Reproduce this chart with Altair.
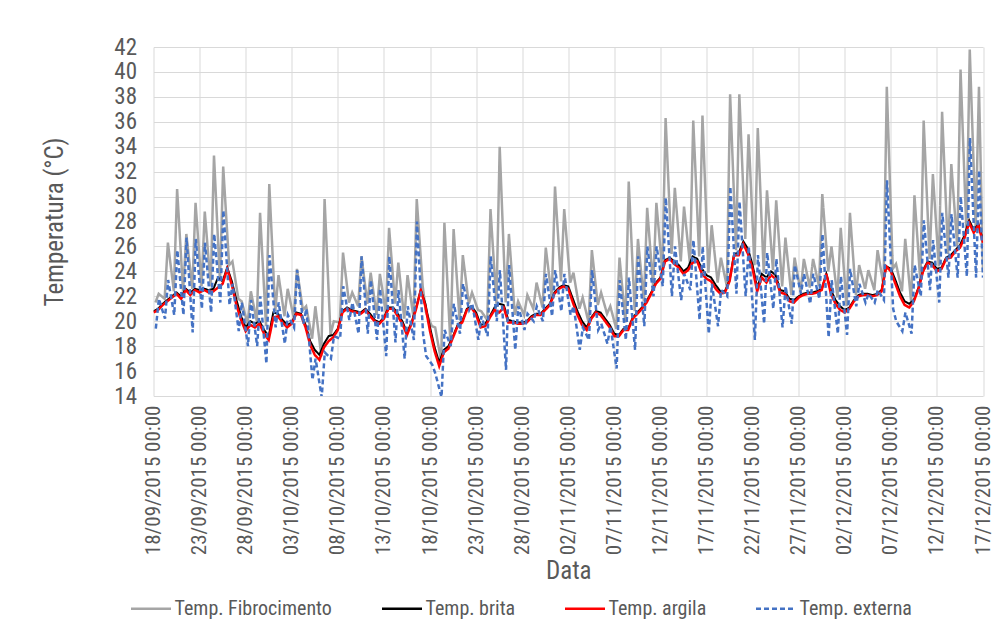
import altair as alt
import pandas as pd

# ---------------- data ----------------
START = pd.Timestamp("2015-09-18 00:00")
N_DAYS = 90

series_names = ["Temp. Fibrocimento", "Temp. brita", "Temp. argila", "Temp. externa"]
series_colors = ["#A5A5A5", "#000000", "#FF0000", "#4472C4"]

# Fibrocimento: night value (~05h) and daily peak (~13h30) for each day
fibro_night = [21.5, 21.8, 22.4, 22.4, 22.6, 22.8, 22.8, 23.2, 24.5, 21.8,
               19.8, 20.0, 19.6, 20.8, 20.4, 20.3, 20.9, 18.6, 17.2, 18.9,
               19.9, 21.5, 21.2, 21.4, 20.5, 20.7, 21.4, 20.2, 20.3, 22.8,
               19.6, 16.8, 18.3, 20.1, 21.4, 20.9, 20.1, 21.4, 21.5, 20.5,
               20.5, 21.0, 21.1, 21.9, 23.2, 23.1, 21.0, 19.9, 21.3, 20.6,
               19.4, 19.9, 20.8, 21.6, 22.8, 24.0, 25.4, 24.8, 24.6, 25.2,
               23.9, 23.1, 22.8, 25.7, 26.6, 24.5, 23.9, 24.1, 22.8, 22.1,
               22.4, 22.7, 22.8, 24.0, 21.9, 21.2, 22.1, 22.6, 22.5, 22.9,
               24.2, 22.4, 21.5, 23.1, 25.0, 24.4, 25.4, 26.0, 27.0, 27.5]
fibro_peak = [22.2, 26.3, 30.6, 27.0, 29.5, 28.8, 33.3, 32.4, 24.8, 21.6,
              22.4, 28.7, 31.0, 23.7, 22.6, 24.2, 21.2, 21.2, 29.8, 20.0,
              25.5, 22.3, 25.2, 23.9, 23.8, 27.5, 24.7, 23.7, 29.8, 20.7,
              19.5, 27.9, 27.4, 25.3, 22.3, 20.8, 29.0, 34.0, 27.0, 21.6,
              22.1, 23.1, 25.9, 30.8, 29.0, 23.9, 21.9, 25.7, 22.3, 21.2,
              25.1, 31.2, 26.6, 29.1, 29.5, 36.3, 30.7, 29.2, 36.1, 36.5,
              27.7, 25.1, 38.2, 38.2, 35.0, 35.5, 30.5, 29.7, 26.7, 25.1,
              25.0, 25.0, 30.2, 26.0, 27.5, 28.7, 24.5, 24.1, 25.7, 38.8,
              24.6, 26.6, 30.1, 36.1, 31.8, 36.8, 32.6, 40.2, 41.8, 38.8]
fibro_last = 24.0

# Brita and argila: one value every 12 hours (00h, 12h), 18/09 00h .. 17/12 00h
brita = [20.8, 21.0, 21.4, 21.7, 22.0, 22.3, 22.0, 22.6, 22.3, 22.6,
         22.5, 22.6, 22.5, 22.6, 23.5, 23.2, 24.3, 23.2, 21.7, 20.4,
         19.5, 20.0, 19.8, 20.0, 19.3, 18.8, 20.7, 20.6, 20.1, 19.7,
         19.9, 20.7, 20.6, 19.7, 18.4, 17.7, 17.3, 18.2, 18.8, 18.9,
         19.4, 20.8, 21.1, 20.9, 20.8, 20.7, 21.0, 20.6, 20.1, 19.9,
         20.3, 21.1, 21.1, 20.6, 20.0, 19.1, 19.9, 21.1, 22.5, 21.4,
         19.5, 17.9, 16.7, 17.7, 18.0, 18.8, 19.7, 20.0, 21.0, 21.2,
         20.7, 19.7, 19.8, 20.4, 21.1, 21.4, 21.3, 20.1, 20.0, 19.9,
         19.9, 20.0, 20.4, 20.6, 20.6, 21.0, 21.4, 22.3, 22.7, 22.9,
         22.8, 21.8, 20.8, 20.0, 19.5, 20.3, 20.8, 20.7, 20.2, 19.7,
         19.0, 18.9, 19.4, 19.4, 20.3, 20.7, 21.1, 21.6, 22.3, 23.1,
         23.5, 24.9, 25.1, 24.8, 24.5, 24.0, 24.3, 25.2, 25.0, 24.2,
         23.7, 23.5, 22.9, 22.4, 22.4, 23.3, 25.4, 25.5, 26.4, 25.8,
         24.5, 22.7, 23.8, 23.5, 24.0, 23.7, 22.5, 22.4, 21.8, 21.7,
         22.0, 22.2, 22.3, 22.3, 22.4, 22.6, 23.8, 22.5, 21.7, 21.2,
         20.9, 21.1, 21.7, 22.1, 22.2, 22.2, 22.1, 22.2, 22.5, 24.4,
         24.2, 23.3, 22.3, 21.6, 21.4, 21.7, 22.7, 24.1, 24.8, 24.7,
         24.2, 24.3, 25.1, 25.3, 25.7, 26.1, 26.9, 28.1, 27.3, 27.8,
         26.5]
argila = [20.7, 20.9, 21.3, 21.6, 21.9, 22.2, 21.8, 22.5, 22.1, 22.5,
          22.3, 22.5, 22.3, 22.4, 22.7, 23.0, 24.2, 22.9, 21.3, 20.1,
          19.2, 19.7, 19.5, 19.8, 19.0, 18.5, 20.3, 20.4, 19.9, 19.5,
          19.8, 20.6, 20.5, 19.5, 18.1, 17.3, 16.9, 17.9, 18.4, 18.7,
          19.3, 20.7, 21.0, 20.8, 20.7, 20.6, 20.9, 20.4, 20.0, 19.8,
          20.2, 21.0, 21.0, 20.4, 19.8, 18.9, 19.8, 21.0, 22.5, 21.2,
          19.2, 17.6, 16.4, 17.5, 17.8, 18.7, 19.6, 19.9, 20.9, 21.1,
          20.5, 19.5, 19.6, 20.3, 20.9, 20.7, 21.1, 19.9, 19.9, 19.8,
          19.8, 19.9, 20.3, 20.5, 20.5, 20.9, 21.3, 22.2, 22.6, 22.8,
          22.6, 21.5, 20.5, 19.7, 19.3, 20.2, 20.7, 20.5, 20.0, 19.5,
          18.8, 18.8, 19.3, 19.3, 20.2, 20.6, 21.0, 21.5, 22.2, 23.0,
          23.4, 24.8, 25.0, 24.6, 24.3, 23.8, 24.1, 24.7, 24.8, 23.8,
          23.4, 23.2, 22.6, 22.2, 22.3, 23.2, 25.3, 25.3, 26.2, 25.4,
          24.2, 22.4, 23.5, 23.1, 23.7, 23.4, 22.3, 22.2, 21.6, 21.5,
          21.9, 22.1, 22.2, 22.2, 22.3, 22.5, 23.8, 22.2, 21.4, 20.9,
          20.7, 21.0, 21.6, 22.0, 22.1, 22.1, 22.0, 22.1, 22.4, 24.4,
          24.0, 23.0, 22.0, 21.3, 21.1, 21.6, 22.6, 24.0, 24.7, 24.5,
          24.0, 24.2, 25.0, 25.1, 25.6, 25.9, 26.7, 27.9, 27.1, 27.7,
          26.3]

# Externa: early-morning value (~06h) and afternoon value (~14h) for each day
ext_morning = [19.4, 20.2, 20.5, 20.5, 19.1, 21.0, 20.7, 21.5, 21.3, 19.2,
               18.0, 18.0, 16.6, 19.5, 18.2, 19.5, 19.8, 15.3, 13.9, 17.0,
               18.6, 20.1, 19.0, 19.0, 18.5, 17.2, 18.3, 17.0, 18.5, 19.0,
               16.5, 13.9, 18.0, 19.0, 20.9, 18.5, 18.8, 20.0, 16.1, 17.7,
               19.3, 20.0, 20.0, 20.4, 20.8, 20.5, 17.7, 18.5, 19.3, 18.2,
               16.2, 18.5, 17.7, 19.6, 22.0, 22.8, 22.0, 21.7, 22.5, 20.1,
               19.0, 19.6, 22.0, 22.2, 22.0, 18.5, 19.8, 21.0, 19.5, 19.8,
               22.2, 21.4, 21.8, 18.7, 19.0, 18.9, 21.2, 21.5, 21.5, 21.7,
               21.0, 19.2, 19.0, 22.0, 22.5, 21.5, 23.5, 23.5, 23.6, 23.5]
ext_afternoon = [21.8, 23.3, 25.7, 26.7, 26.6, 26.3, 27.0, 28.9, 23.0, 21.5,
                 21.7, 22.0, 25.3, 21.5, 20.5, 24.1, 21.0, 17.0, 17.5, 18.8,
                 22.8, 21.5, 25.2, 23.3, 22.6, 25.2, 22.5, 21.2, 28.0, 17.2,
                 15.8, 19.3, 21.4, 23.0, 21.4, 20.4, 25.2, 24.1, 24.5, 21.2,
                 20.6, 21.2, 23.8, 24.1, 23.8, 21.2, 19.5, 24.1, 19.8, 19.6,
                 23.3, 23.5, 25.2, 26.0, 26.0, 29.9, 26.0, 23.8, 26.5, 26.0,
                 23.0, 22.5, 30.8, 29.6, 26.0, 25.3, 25.5, 25.0, 22.8, 24.5,
                 23.8, 23.8, 27.0, 23.3, 23.6, 24.2, 23.0, 22.2, 22.5, 31.3,
                 20.0, 20.7, 24.5, 28.1, 26.5, 28.7, 28.6, 30.0, 34.7, 32.1]
ext_last = 23.5

# ---------------- table ----------------
rows = []
for d in range(N_DAYS):
    rows.append((START + pd.Timedelta(hours=24 * d + 5), series_names[0], fibro_night[d]))
    rows.append((START + pd.Timedelta(hours=24 * d + 13.5), series_names[0], fibro_peak[d]))
    rows.append((START + pd.Timedelta(hours=24 * d + 6), series_names[3], ext_morning[d]))
    rows.append((START + pd.Timedelta(hours=24 * d + 14), series_names[3], ext_afternoon[d]))
rows.append((START + pd.Timedelta(days=N_DAYS), series_names[0], fibro_last))
rows.append((START + pd.Timedelta(days=N_DAYS), series_names[3], ext_last))
for i in range(len(brita)):
    rows.append((START + pd.Timedelta(hours=12 * i), series_names[1], brita[i]))
    rows.append((START + pd.Timedelta(hours=12 * i), series_names[2], argila[i]))

df = pd.DataFrame(rows, columns=["t", "serie", "v"]).sort_values(["serie", "t"])

tick_dates = [START + pd.Timedelta(days=5 * k) for k in range(19)]
tick_values = [alt.DateTime(year=t.year, month=t.month, date=t.day) for t in tick_dates]
end = START + pd.Timedelta(days=N_DAYS)

FONT = "Liberation Sans Narrow, Arial Narrow, Roboto Condensed, Liberation Sans, sans-serif"
TXT = "#595959"
GRID = "#D9D9D9"

legend = alt.Legend(
    title=None, orient="none", legendX=-24, legendY=540, direction="horizontal",
    symbolType="stroke", symbolSize=1600, symbolStrokeWidth=2.5,
    labelFont=FONT, labelFontSize=20, labelColor=TXT, labelLimit=400,
    columnPadding=44, labelOffset=2,
)

base = alt.Chart(df).encode(
    x=alt.X("t:T",
            scale=alt.Scale(domain=[alt.DateTime(year=2015, month=9, date=18),
                                    alt.DateTime(year=end.year, month=end.month, date=end.day)]),
            axis=alt.Axis(values=tick_values, format="%d/%m/%Y %H:%M", labelAngle=270,
                          labelAlign="right", labelBaseline="middle", labelFont=FONT,
                          labelFontSize=21, labelColor=TXT, labelPadding=9, labelFlush=False,
                          labelOverlap=False, ticks=False, domain=False, grid=True,
                          gridColor=GRID, gridWidth=1, title="Data", titleFont=FONT,
                          titleFontSize=25, titleFontWeight="normal", titleColor=TXT,
                          titlePadding=4)),
    y=alt.Y("v:Q",
            scale=alt.Scale(domain=[14, 42], nice=False, zero=False),
            axis=alt.Axis(values=list(range(14, 43, 2)), labelFont=FONT, labelFontSize=23,
                          labelColor=TXT, labelPadding=17, ticks=False, domain=False,
                          grid=True, gridColor=GRID, gridWidth=1,
                          title="Temperatura (°C)", titleFont=FONT, titleFontSize=25,
                          titleFontWeight="normal", titleColor=TXT, titlePadding=46)),
    color=alt.Color("serie:N", scale=alt.Scale(domain=series_names, range=series_colors),
                    legend=legend),
    strokeDash=alt.StrokeDash("serie:N",
                              scale=alt.Scale(domain=series_names,
                                              range=[[1, 0], [1, 0], [1, 0], [5, 3]]),
                              legend=legend),
)

widths = [2.5, 2.0, 2.5, 2.5]
layers = [
    base.transform_filter(alt.datum.serie == name).mark_line(strokeWidth=w, clip=True)
    for name, w in zip(series_names, widths)
]

chart = alt.layer(*layers).properties(
    width=829.5, height=349,
    padding={"left": 145.5, "top": 39, "right": 12, "bottom": 226},
    autosize=alt.AutoSizeParams(type="none"),
    background="white",
).configure_view(stroke=None)

chart.save("out.html", embed_options={"renderer": "svg", "actions": False})
